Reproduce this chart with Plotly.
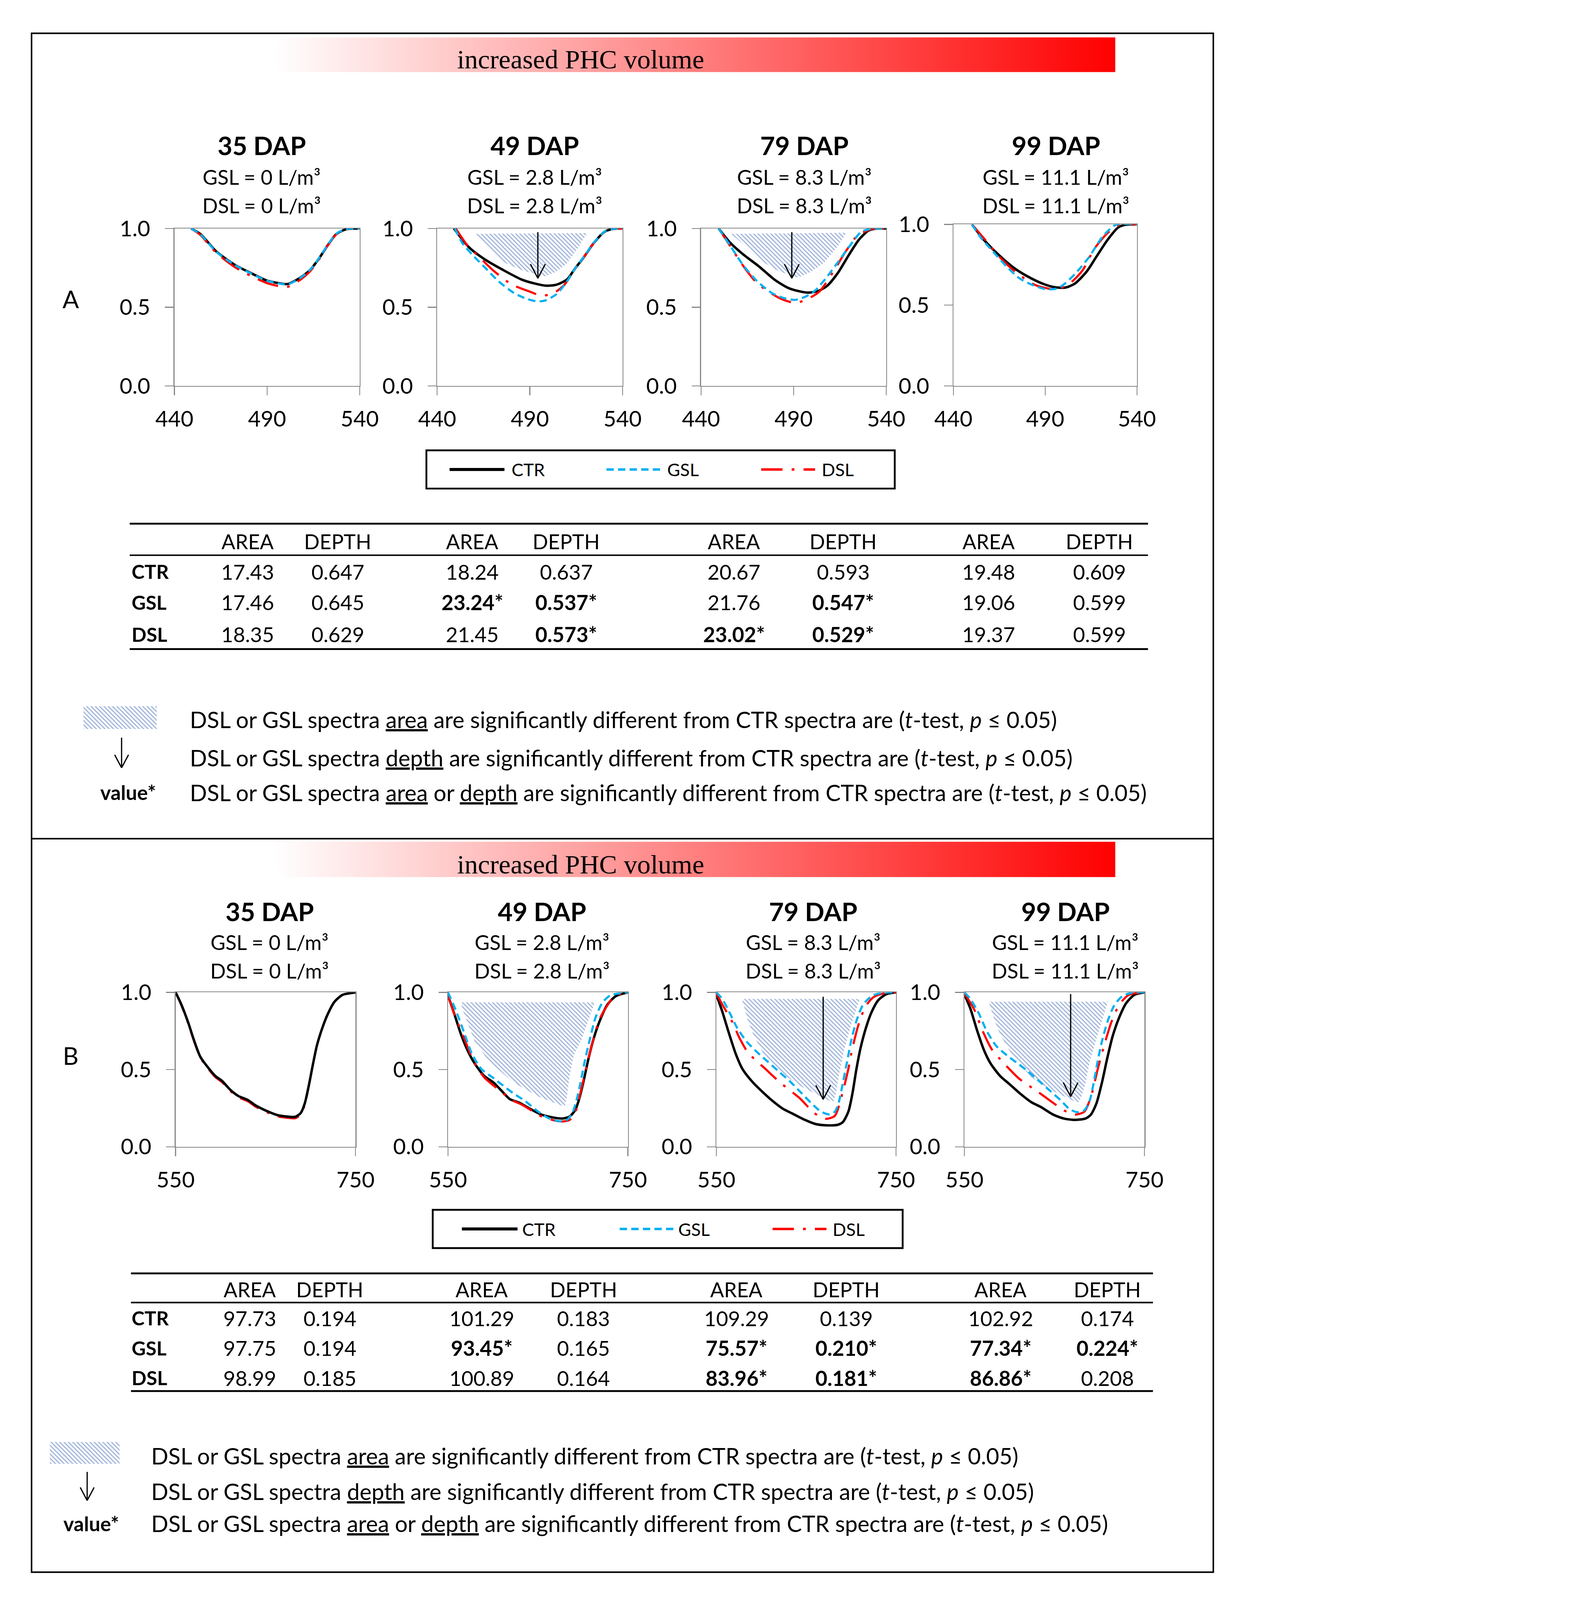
import base64
import plotly.graph_objects as go

W, H = 4081, 5251
RW, RH = 1218.0, 1568.0          # layout grid units (reference proportions)
S = W / RW                        # layout unit -> pixel


def px(x):
    return x / RW


def py(y):
    return 1 - y / RH


FONT = "Lato"
SERIF = "Liberation Serif"
GRAY = "#868686"
C_CTR, C_GSL, C_DSL = "#000000", "#00B0F0", "#FF0000"
HATCH = "#4A70B6"

# ======================= DATA =======================
DAP = ["35 DAP", "49 DAP", "79 DAP", "99 DAP"]
DOSE = ["0", "2.8", "8.3", "11.1"]
TREAT = ["CTR", "GSL", "DSL"]

# ---- Panel A spectra (wavelength nm, normalised reflectance) ----
A35_CTR_wl = [449.0, 454.1, 462.6, 472.6, 481.1, 489.6, 496.8, 501.0, 507.4, 513.1, 518.1, 522.4, 527.3, 532.3, 540.0]
A35_CTR = [1.0, 0.964, 0.854, 0.769, 0.718, 0.671, 0.652, 0.647, 0.684, 0.735, 0.811, 0.888, 0.964, 0.994, 1.0]
A35_GSL_wl = A35_CTR_wl
A35_GSL = [1.0, 0.962, 0.852, 0.768, 0.716, 0.670, 0.650, 0.645, 0.682, 0.736, 0.813, 0.890, 0.966, 0.995, 1.0]
A35_DSL_wl = A35_CTR_wl
A35_DSL = [1.0, 0.958, 0.845, 0.755, 0.700, 0.655, 0.633, 0.629, 0.670, 0.727, 0.805, 0.886, 0.962, 0.994, 1.0]

A49_CTR_wl = [449.0, 457.3, 465.8, 475.8, 485.7, 492.8, 498.5, 504.2, 509.9, 514.2, 519.2, 524.8, 530.5, 535.5, 540.0]
A49_CTR = [1.0, 0.879, 0.803, 0.735, 0.675, 0.650, 0.637, 0.643, 0.675, 0.743, 0.820, 0.913, 0.981, 0.998, 1.0]
A49_GSL_wl = [449.5, 453.7, 459.4, 465.8, 472.9, 481.5, 488.6, 494.3, 498.5, 504.2, 509.2, 514.2, 519.2, 524.8, 530.5, 535.5, 540.0]
A49_GSL = [1.0, 0.905, 0.828, 0.752, 0.667, 0.590, 0.552, 0.537, 0.544, 0.582, 0.650, 0.743, 0.822, 0.915, 0.982, 0.998, 1.0]
A49_DSL_wl = [450.0, 456.6, 461.5, 470.1, 480.0, 490.0, 496.4, 502.8, 508.5, 514.9, 519.2, 524.8, 530.5, 535.5, 540.0]
A49_DSL = [1.0, 0.888, 0.833, 0.735, 0.646, 0.599, 0.573, 0.590, 0.641, 0.752, 0.820, 0.913, 0.981, 0.998, 1.0]

A79_CTR_wl = [449.5, 455.5, 462.6, 471.2, 479.7, 486.8, 492.5, 497.5, 503.2, 508.2, 513.9, 519.6, 525.3, 530.3, 533.8, 540.0]
A79_CTR = [1.0, 0.913, 0.837, 0.760, 0.675, 0.624, 0.603, 0.593, 0.603, 0.637, 0.718, 0.828, 0.930, 0.986, 0.998, 1.0]
A79_GSL_wl = [449.5, 455.5, 462.6, 470.5, 478.3, 485.4, 491.0, 496.7, 501.7, 507.4, 513.9, 519.6, 526.7, 532.4, 540.0]
A79_GSL = [1.0, 0.896, 0.769, 0.663, 0.590, 0.556, 0.547, 0.569, 0.607, 0.684, 0.786, 0.879, 0.981, 0.998, 1.0]
A79_DSL_wl = [449.5, 452.0, 463.4, 470.5, 481.9, 489.7, 493.2, 498.9, 503.9, 511.0, 518.1, 524.5, 532.4, 540.0]
A79_DSL = [1.0, 0.956, 0.752, 0.650, 0.561, 0.529, 0.533, 0.561, 0.599, 0.718, 0.854, 0.956, 0.997, 1.0]

A99_CTR_wl = [450.1, 456.5, 465.1, 473.8, 482.4, 489.6, 495.3, 501.1, 506.1, 512.6, 518.3, 524.1, 529.8, 533.4, 540.0]
A99_CTR = [1.0, 0.906, 0.807, 0.724, 0.666, 0.629, 0.611, 0.609, 0.633, 0.708, 0.807, 0.906, 0.981, 0.997, 1.0]
A99_GSL_wl = [450.1, 455.1, 461.6, 468.8, 476.0, 483.1, 490.3, 496.8, 501.1, 506.8, 514.0, 521.2, 528.4, 540.0]
A99_GSL = [1.0, 0.915, 0.832, 0.741, 0.666, 0.625, 0.599, 0.604, 0.637, 0.700, 0.799, 0.923, 0.997, 1.0]
A99_DSL_wl = [450.1, 457.2, 466.5, 474.5, 484.5, 493.9, 498.9, 504.6, 510.4, 516.8, 524.1, 530.5, 540.0]
A99_DSL = [1.0, 0.906, 0.782, 0.700, 0.625, 0.599, 0.608, 0.646, 0.716, 0.849, 0.948, 0.997, 1.0]

# ---- Panel B spectra ----
B35_CTR_wl = [550, 556.3, 563.9, 569.9, 577.4, 585.0, 594.0, 601.5, 610.6, 619.6, 630.2, 639.2, 651.3, 663.3, 673.9, 682.9, 689.0, 693.5, 698.0, 702.5, 707.0, 713.1, 719.1, 726.6, 735.7, 747.0, 750]
B35_CTR = [1.0, 0.922, 0.806, 0.699, 0.583, 0.521, 0.459, 0.427, 0.370, 0.329, 0.303, 0.267, 0.232, 0.205, 0.196, 0.194, 0.218, 0.280, 0.396, 0.530, 0.655, 0.770, 0.859, 0.939, 0.984, 0.997, 1.0]
B35_GSL_wl = B35_CTR_wl
B35_GSL = [1.0, 0.921, 0.805, 0.699, 0.584, 0.521, 0.458, 0.426, 0.369, 0.329, 0.302, 0.266, 0.231, 0.205, 0.196, 0.194, 0.219, 0.281, 0.397, 0.531, 0.656, 0.771, 0.860, 0.940, 0.984, 0.997, 1.0]
B35_DSL_wl = B35_CTR_wl
B35_DSL = [1.0, 0.918, 0.800, 0.694, 0.578, 0.515, 0.452, 0.419, 0.362, 0.322, 0.295, 0.259, 0.224, 0.197, 0.188, 0.185, 0.208, 0.272, 0.392, 0.528, 0.654, 0.770, 0.859, 0.939, 0.984, 0.997, 1.0]

B49_CTR_wl = [550, 557.1, 564.6, 572.2, 579.7, 590.2, 600.8, 609.8, 618.9, 629.4, 641.5, 653.5, 665.6, 677.6, 685.2, 691.2, 695.7, 700.3, 706.3, 712.3, 719.9, 727.4, 736.4, 750]
B49_CTR = [0.98, 0.859, 0.726, 0.619, 0.539, 0.459, 0.415, 0.361, 0.308, 0.285, 0.245, 0.209, 0.191, 0.183, 0.196, 0.236, 0.307, 0.414, 0.574, 0.708, 0.833, 0.922, 0.975, 1.0]
B49_GSL_wl = [550, 558.6, 567.6, 576.7, 587.2, 599.3, 611.3, 623.4, 635.4, 650.5, 662.6, 674.6, 682.2, 688.2, 692.7, 697.3, 701.8, 707.8, 713.8, 721.4, 730.4, 750]
B49_GSL = [1.0, 0.886, 0.744, 0.601, 0.503, 0.450, 0.396, 0.343, 0.298, 0.227, 0.183, 0.165, 0.174, 0.218, 0.298, 0.414, 0.548, 0.699, 0.833, 0.931, 0.980, 1.0]
B49_DSL_wl = [550, 557.1, 567.6, 578.5, 590.2, 608.3, 620.0, 632.4, 642.0, 650.5, 668.6, 677.6, 685.2, 691.2, 698.7, 704.8, 710.8, 718.3, 725.9, 734.9, 750]
B49_DSL = [0.98, 0.857, 0.708, 0.555, 0.450, 0.361, 0.305, 0.272, 0.238, 0.205, 0.170, 0.164, 0.174, 0.218, 0.387, 0.539, 0.681, 0.824, 0.904, 0.975, 1.0]

B79_CTR_wl = [550, 556.5, 564.0, 571.6, 579.1, 589.7, 600.3, 612.3, 624.4, 635.0, 648.6, 660.6, 672.7, 684.8, 690.8, 696.9, 701.4, 705.9, 710.4, 716.5, 722.5, 730.1, 739.1, 750]
B79_CTR = [0.984, 0.877, 0.735, 0.601, 0.503, 0.423, 0.361, 0.298, 0.245, 0.214, 0.174, 0.147, 0.139, 0.142, 0.160, 0.227, 0.343, 0.503, 0.637, 0.770, 0.868, 0.948, 0.988, 1.0]
B79_GSL_wl = [550, 556.5, 564.0, 573.1, 583.7, 595.8, 607.8, 619.9, 632.0, 644.0, 656.1, 666.7, 675.7, 681.8, 686.3, 690.8, 695.4, 699.9, 705.9, 713.5, 724.0, 736.1, 750]
B79_GSL = [1.0, 0.957, 0.877, 0.770, 0.681, 0.610, 0.548, 0.485, 0.423, 0.352, 0.280, 0.227, 0.210, 0.227, 0.289, 0.414, 0.548, 0.681, 0.815, 0.922, 0.980, 0.997, 1.0]
B79_DSL_wl = [550, 556.5, 567.1, 576.2, 585.2, 604.8, 621.4, 642.5, 659.1, 671.2, 681.8, 689.3, 696.9, 701.4, 709.0, 716.5, 725.6, 739.1, 750]
B79_DSL = [0.993, 0.922, 0.815, 0.699, 0.610, 0.503, 0.414, 0.316, 0.218, 0.181, 0.200, 0.325, 0.503, 0.637, 0.806, 0.913, 0.971, 0.997, 1.0]

B99_CTR_wl = [550, 556.5, 564.0, 571.5, 579.0, 589.5, 600.1, 612.1, 624.2, 634.7, 648.3, 660.4, 672.4, 684.5, 690.5, 696.5, 702.6, 708.6, 714.6, 722.1, 729.7, 738.7, 750]
B99_CTR = [0.984, 0.895, 0.753, 0.628, 0.539, 0.459, 0.405, 0.343, 0.289, 0.258, 0.209, 0.183, 0.174, 0.183, 0.209, 0.280, 0.414, 0.574, 0.717, 0.841, 0.931, 0.984, 1.0]
B99_GSL_wl = [550, 556.5, 565.5, 574.5, 585.1, 597.1, 609.2, 621.2, 633.3, 645.3, 657.4, 666.4, 675.4, 683.0, 689.0, 693.5, 698.0, 702.6, 708.6, 716.1, 725.2, 735.7, 750]
B99_GSL = [1.0, 0.957, 0.868, 0.752, 0.654, 0.592, 0.539, 0.485, 0.423, 0.361, 0.298, 0.245, 0.224, 0.236, 0.298, 0.414, 0.557, 0.681, 0.806, 0.913, 0.975, 0.997, 1.0]
B99_DSL_wl = [550, 561.0, 570.0, 580.6, 592.6, 610.7, 630.3, 645.3, 660.4, 672.4, 683.0, 690.5, 698.0, 705.5, 713.1, 722.1, 732.7, 750]
B99_DSL = [0.993, 0.886, 0.752, 0.628, 0.548, 0.441, 0.361, 0.298, 0.236, 0.208, 0.227, 0.325, 0.503, 0.663, 0.806, 0.922, 0.984, 1.0]

# ---- significant-area regions (hatched), wavelength / reflectance outlines ----
A49_HATCH_wl = [460.5, 468.7, 475.8, 485.7, 497.1, 498.5, 504.2, 509.9, 515.6, 520.9, 460.5]
A49_HATCH_r = [0.966, 0.871, 0.786, 0.735, 0.697, 0.697, 0.726, 0.777, 0.871, 0.971, 0.966]
A79_HATCH_wl = [456.2, 464.1, 471.2, 481.1, 490.4, 493.2, 499.6, 506.8, 513.9, 518.5, 456.2]
A79_HATCH_r = [0.966, 0.888, 0.803, 0.735, 0.692, 0.692, 0.726, 0.786, 0.888, 0.973, 0.966]
B49_HATCH_wl = [563.9, 567.6, 579.7, 596.3, 623.4, 650.5, 677.7, 679.9, 682.2, 685.2, 689.7, 698.8, 713.1, 563.9]
B49_HATCH_r = [0.935, 0.868, 0.681, 0.548, 0.414, 0.325, 0.263, 0.263, 0.325, 0.459, 0.592, 0.699, 0.935, 0.935]
B79_HATCH_wl = [578.4, 585.2, 591.2, 603.3, 624.4, 645.5, 678.8, 680.3, 683.3, 686.3, 692.3, 699.9, 709.7, 578.4]
B79_HATCH_r = [0.957, 0.815, 0.726, 0.592, 0.467, 0.387, 0.289, 0.289, 0.352, 0.459, 0.628, 0.788, 0.957, 0.957]
B99_HATCH_wl = [576.8, 583.6, 589.6, 603.2, 624.2, 645.3, 673.9, 677.0, 680.0, 684.5, 689.0, 696.5, 709.3, 576.8]
B99_HATCH_r = [0.939, 0.815, 0.726, 0.592, 0.450, 0.370, 0.289, 0.289, 0.325, 0.414, 0.548, 0.699, 0.939, 0.939]

# ---- significant-depth arrows: wavelength, start reflectance, tip reflectance ----
A49_ARROW = [494.3, 0.977, 0.684]
A79_ARROW = [489.0, 0.977, 0.684]
B79_ARROW = [668.9, 0.971, 0.307]
B99_ARROW = [667.9, 0.988, 0.325]

# ---- tables: AREA / DEPTH per DAP, and significance flags ----
A_AREA = {"CTR": [17.43, 18.24, 20.67, 19.48], "GSL": [17.46, 23.24, 21.76, 19.06], "DSL": [18.35, 21.45, 23.02, 19.37]}
A_DEPTH = {"CTR": [0.647, 0.637, 0.593, 0.609], "GSL": [0.645, 0.537, 0.547, 0.599], "DSL": [0.629, 0.573, 0.529, 0.599]}
A_AREA_SIG = {"CTR": [0, 0, 0, 0], "GSL": [0, 1, 0, 0], "DSL": [0, 0, 1, 0]}
A_DEPTH_SIG = {"CTR": [0, 0, 0, 0], "GSL": [0, 1, 1, 0], "DSL": [0, 1, 1, 0]}
B_AREA = {"CTR": [97.73, 101.29, 109.29, 102.92], "GSL": [97.75, 93.45, 75.57, 77.34], "DSL": [98.99, 100.89, 83.96, 86.86]}
B_DEPTH = {"CTR": [0.194, 0.183, 0.139, 0.174], "GSL": [0.194, 0.165, 0.210, 0.224], "DSL": [0.185, 0.164, 0.181, 0.208]}
B_AREA_SIG = {"CTR": [0, 0, 0, 0], "GSL": [0, 1, 1, 1], "DSL": [0, 0, 1, 1]}
B_DEPTH_SIG = {"CTR": [0, 0, 0, 0], "GSL": [0, 0, 1, 1], "DSL": [0, 0, 1, 0]}

A_XRANGE, A_XTICKS = [440, 540], [440, 490, 540]
B_XRANGE, B_XTICKS = [550, 750], [550, 750]
Y_TICKS, Y_TICKTEXT = [0, 0.5, 1.0], ["0.0", "0.5", "1.0"]

# ======================= LAYOUT GEOMETRY =======================
A_DOMX = [(156.9, 344.2), (422.5, 609.9), (689.2, 876.4), (944.3, 1129.8)]
A_DOMY = [(213.7, 370.6), (213.7, 370.6), (213.7, 370.6), (209.6, 370.6)]
B_DOMX = [(158.1, 340.0), (433.4, 615.3), (704.7, 886.3), (955.5, 1137.5)]
B_DOMY = [(974.7, 1128.6)] * 4

panels = [
    dict(key="A", domx=A_DOMX, domy=A_DOMY, xr=A_XRANGE, xt=A_XTICKS,
         curves=[(A35_CTR_wl, A35_CTR, A35_GSL_wl, A35_GSL, A35_DSL_wl, A35_DSL),
                 (A49_CTR_wl, A49_CTR, A49_GSL_wl, A49_GSL, A49_DSL_wl, A49_DSL),
                 (A79_CTR_wl, A79_CTR, A79_GSL_wl, A79_GSL, A79_DSL_wl, A79_DSL),
                 (A99_CTR_wl, A99_CTR, A99_GSL_wl, A99_GSL, A99_DSL_wl, A99_DSL)],
         hatch=[None, (A49_HATCH_wl, A49_HATCH_r), (A79_HATCH_wl, A79_HATCH_r), None],
         arrows=[None, A49_ARROW, A79_ARROW, None],
         ctr_on_top=[False, False, False, False],
         title_x=[245, 521, 793.5, 1048], title_y=(130.6, 162.0, 190.6)),
    dict(key="B", domx=B_DOMX, domy=B_DOMY, xr=B_XRANGE, xt=B_XTICKS,
         curves=[(B35_CTR_wl, B35_CTR, B35_GSL_wl, B35_GSL, B35_DSL_wl, B35_DSL),
                 (B49_CTR_wl, B49_CTR, B49_GSL_wl, B49_GSL, B49_DSL_wl, B49_DSL),
                 (B79_CTR_wl, B79_CTR, B79_GSL_wl, B79_GSL, B79_DSL_wl, B79_DSL),
                 (B99_CTR_wl, B99_CTR, B99_GSL_wl, B99_GSL, B99_DSL_wl, B99_DSL)],
         hatch=[None, (B49_HATCH_wl, B49_HATCH_r), (B79_HATCH_wl, B79_HATCH_r), (B99_HATCH_wl, B99_HATCH_r)],
         arrows=[None, None, B79_ARROW, B99_ARROW],
         ctr_on_top=[True, False, False, False],
         title_x=[253, 528.5, 802.5, 1057.5], title_y=(894.0, 924.8, 953.3)),
]

DASH_GSL = "24px,14px"
DASH_DSL = "70px,30px,9px,30px"
LINE_STYLES = {"CTR": dict(color=C_CTR, width=8, dash="solid"),
               "GSL": dict(color=C_GSL, width=7, dash=DASH_GSL),
               "DSL": dict(color=C_DSL, width=7, dash=DASH_DSL)}
PATTERN = dict(shape="\\", fgcolor=HATCH, bgcolor="rgba(0,0,0,0)", size=10, solidity=0.4, fillmode="overlay")

fig = go.Figure()
layout = dict(width=W, height=H, autosize=False, margin=dict(l=0, r=0, t=0, b=0),
              paper_bgcolor="white", plot_bgcolor="rgba(0,0,0,0)", showlegend=False)
annotations, shapes, images = [], [], []


def ann(text, x, y, size, xanchor="center", family=FONT, color="black"):
    annotations.append(dict(text=text, x=px(x), y=py(y), xref="paper", yref="paper",
                            xanchor=xanchor, yanchor="middle", showarrow=False,
                            font=dict(family=family, size=size, color=color)))


def hline(x0, x1, y, width, color="black", dash="solid"):
    shapes.append(dict(type="line", xref="paper", yref="paper", x0=px(x0), x1=px(x1),
                       y0=py(y), y1=py(y), line=dict(color=color, width=width, dash=dash)))


def seg(x0, y0, x1, y1, width, color="black"):
    shapes.append(dict(type="line", xref="paper", yref="paper", x0=px(x0), x1=px(x1),
                       y0=py(y0), y1=py(y1), line=dict(color=color, width=width)))


ax_i = 0
for panel in panels:
    for j in range(4):
        ax_i += 1
        xa, ya = f"x{ax_i}", f"y{ax_i}"
        (x0, x1), (y0, y1) = panel["domx"][j], panel["domy"][j]
        common = dict(showline=True, mirror=True, linecolor=GRAY, linewidth=3, ticks="outside",
                      ticklen=28, tickwidth=3, tickcolor=GRAY, showgrid=False, zeroline=False,
                      tickfont=dict(family=FONT, size=72, color="black"), fixedrange=True)
        layout[f"xaxis{ax_i}"] = dict(domain=[px(x0), px(x1)], range=panel["xr"], tickvals=panel["xt"],
                                      anchor=ya, ticklabelstandoff=16, **common)
        layout[f"yaxis{ax_i}"] = dict(domain=[py(y1), py(y0)], range=[0, 1.0], tickvals=Y_TICKS,
                                      ticktext=Y_TICKTEXT, anchor=xa, ticklabelstandoff=34, **common)
        # hatched significant-area region
        if panel["hatch"][j] is not None:
            hx, hy = panel["hatch"][j]
            fig.add_trace(go.Scatter(x=hx, y=hy, xaxis=xa, yaxis=ya, mode="lines", fill="toself",
                                     fillcolor="rgba(0,0,0,0)", fillpattern=PATTERN,
                                     line=dict(width=0, color="rgba(0,0,0,0)"), hoverinfo="skip"))
        # spectra
        cw, cv, gw, gv, dw, dv = panel["curves"][j]
        if panel["ctr_on_top"][j]:
            order = (("DSL", dw, dv), ("GSL", gw, gv), ("CTR", cw, cv))
        else:
            order = (("CTR", cw, cv), ("DSL", dw, dv), ("GSL", gw, gv))
        for name, wl, val in order:
            fig.add_trace(go.Scatter(x=wl, y=val, xaxis=xa, yaxis=ya, mode="lines", name=name,
                                     line=dict(shape="spline", smoothing=0.7, **LINE_STYLES[name])))
        # significant-depth arrow
        arr = panel["arrows"][j]
        if arr is not None:
            wl_a, r0, r1 = arr
            wpx = (x1 - x0) * S
            hpx = (y1 - y0) * S
            dx = 25 / wpx * (panel["xr"][1] - panel["xr"][0])
            dy = 47 / hpx
            fig.add_trace(go.Scatter(x=[wl_a, wl_a, None, wl_a - dx, wl_a, wl_a + dx],
                                     y=[r0, r1, None, r1 + dy, r1, r1 + dy], xaxis=xa, yaxis=ya,
                                     mode="lines", line=dict(color="black", width=4), hoverinfo="skip"))
        # titles
        tx = panel["title_x"][j]
        ty = panel["title_y"]
        ann(f"<b>{DAP[j]}</b>", tx, ty[0], 84)
        ann(f"GSL = {DOSE[j]} L/m³", tx, ty[1], 67)
        ann(f"DSL = {DOSE[j]} L/m³", tx, ty[2], 67)

# full-page overlay axis (layout units) for key swatches
layout["xaxis9"] = dict(domain=[0, 1], range=[0, RW], visible=False, anchor="y9", fixedrange=True)
layout["yaxis9"] = dict(domain=[0, 1], range=[RH, 0], visible=False, anchor="x9", fixedrange=True)

# ---------- gradient bars ----------
svg = ('<svg xmlns="http://www.w3.org/2000/svg" width="850" height="35" viewBox="0 0 850 35" '
       'preserveAspectRatio="none"><defs><linearGradient id="g" x1="0" x2="1" y1="0" y2="0">'
       '<stop offset="0" stop-color="#ffffff"/><stop offset="1" stop-color="#ff0000"/>'
       '</linearGradient></defs><rect width="850" height="35" fill="url(#g)"/></svg>')
grad_src = "data:image/svg+xml;base64," + base64.b64encode(svg.encode()).decode()
for (gy0, gy1, ty) in ((23.2, 57.9, 45.3), (824.6, 860.0, 847.0)):
    images.append(dict(source=grad_src, xref="paper", yref="paper", x=px(258), y=py(gy0),
                       sizex=px(1108) - px(258), sizey=(gy1 - gy0) / RH, xanchor="left",
                       yanchor="top", sizing="stretch", layer="below"))
    ann("increased PHC volume", 567.5, ty, 88, family=SERIF)

# panel letters
ann("A", 52, 284, 80)
ann("B", 52, 1037.5, 80)

# ---------- frame ----------
shapes.append(dict(type="rect", xref="paper", yref="paper", x0=px(12.5), x1=px(1207),
                   y0=py(19.2), y1=py(1552.4), line=dict(color="black", width=5)))
hline(12.5, 1207, 821.6, 5)

# ---------- legends ----------
for (bx0, bx1, by0, by1, items) in (
        (411.6, 885.0, 434.7, 472.8, [(435, 490.5, 497), (593.6, 648, 654.5), (750, 804.5, 810.7)]),
        (418.0, 893.0, 1191.4, 1229.5, [(447.5, 503.7, 507.7), (607, 664, 665.4), (761.5, 816, 821.6)])):
    shapes.append(dict(type="rect", xref="paper", yref="paper", x0=px(bx0), x1=px(bx1),
                       y0=py(by0), y1=py(by1), line=dict(color="black", width=6)))
    yc = (by0 + by1) / 2
    for name, (lx0, lx1, tx) in zip(TREAT, items):
        st = LINE_STYLES[name]
        hline(lx0, lx1, yc, 10 if name == "CTR" else 8, color=st["color"], dash=st["dash"])
        ann(name, tx, yc, 58, xanchor="left")

# ---------- tables ----------
for (tbl_x0, tbl_x1, lines_y, head_y, rows_y, cols_x, AREA, DEPTH, ASIG, DSIG) in (
        (111.7, 1141.0, (507.8, 539.2, 632.7), 525.6, (555.3, 586.2, 617.9),
         (231, 322, 458, 553, 722.5, 833, 980, 1092), A_AREA, A_DEPTH, A_AREA_SIG, A_DEPTH_SIG),
        (113.0, 1146.0, (1254.7, 1283.8, 1372.0), 1270.7, (1299.3, 1329.0, 1358.7),
         (233, 314, 467.5, 570.5, 725, 836, 992, 1100), B_AREA, B_DEPTH, B_AREA_SIG, B_DEPTH_SIG)):
    for k, ly in enumerate(lines_y):
        hline(tbl_x0, tbl_x1, ly, 6 if k != 1 else 5)
    for c in range(4):
        ann("AREA", cols_x[2 * c], head_y, 67)
        ann("DEPTH", cols_x[2 * c + 1], head_y, 67)
    for r, name in enumerate(TREAT):
        ann(f"<b>{name}</b>", 113, rows_y[r], 64, xanchor="left")
        for c in range(4):
            a = f"{AREA[name][c]:.2f}"
            d = f"{DEPTH[name][c]:.3f}"
            a = f"<b>{a}*</b>" if ASIG[name][c] else a
            d = f"<b>{d}*</b>" if DSIG[name][c] else d
            ann(a, cols_x[2 * c], rows_y[r], 68)
            ann(d, cols_x[2 * c + 1], rows_y[r], 68)

# ---------- keys ----------
KEY1 = "DSL or GSL spectra <u>area</u> are significantly different from CTR spectra are (<i>t</i>-test, <i>p</i> ≤ 0.05)"
KEY2 = "DSL or GSL spectra <u>depth</u> are significantly different from CTR spectra are (<i>t</i>-test, <i>p</i> ≤ 0.05)"
KEY3 = "DSL or GSL spectra <u>area</u> or <u>depth</u> are significantly different from CTR spectra are (<i>t</i>-test, <i>p</i> ≤ 0.05)"
for (sw, text_x, ys, arr_x, arr_y, val_x) in (
        ((65, 139, 689.7, 712.4), 171.8, (702.5, 740.9, 775.5), 103.5, (721, 751), 139),
        ((31, 101.5, 1422.7, 1444.5), 132.8, (1436.5, 1471.9, 1503.9), 68.7, (1452.5, 1481), 101.5)):
    sx0, sx1, sy0, sy1 = sw
    fig.add_trace(go.Scatter(x=[sx0, sx1, sx1, sx0, sx0], y=[sy0, sy0, sy1, sy1, sy0], xaxis="x9", yaxis="y9",
                             mode="lines", fill="toself", fillcolor="rgba(0,0,0,0)", fillpattern=PATTERN,
                             line=dict(width=0, color="rgba(0,0,0,0)"), hoverinfo="skip"))
    seg(arr_x, arr_y[0], arr_x, arr_y[1], 4)
    seg(arr_x - 7, arr_y[1] - 13, arr_x, arr_y[1], 4)
    seg(arr_x + 7, arr_y[1] - 13, arr_x, arr_y[1], 4)
    ann("<b>value*</b>", val_x, ys[2], 66, xanchor="right")
    for t, yy in zip((KEY1, KEY2, KEY3), ys):
        ann(t, text_x, yy, 74, xanchor="left")

layout["annotations"] = annotations
layout["shapes"] = shapes
layout["images"] = images
fig.update_layout(**layout)

# keep the whole figure inside the browser viewport even if it is smaller than the figure
FIT_JS = """
(function(){
  var gd = document.getElementById('{plot_id}');
  document.documentElement.style.margin = '0';
  document.body.style.margin = '0';
  document.body.style.overflow = 'hidden';
  var s = Math.min(window.innerWidth / %d, window.innerHeight / %d, 1);
  gd.style.transformOrigin = '0 0';
  gd.style.transform = 'scale(' + s + ')';
})();
""" % (W, H)
fig.write_html("out.html", post_script=FIT_JS, config={"displayModeBar": False, "staticPlot": True})
